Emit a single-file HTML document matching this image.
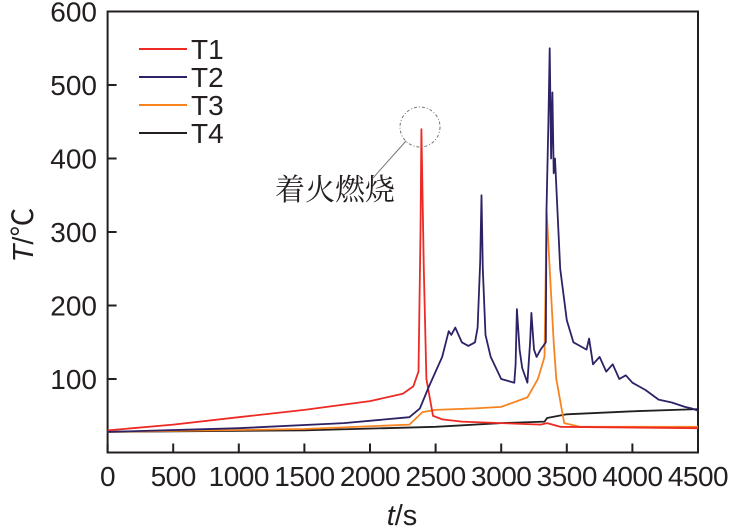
<!DOCTYPE html>
<html><head><meta charset="utf-8"><style>
body{margin:0;background:#fff}
svg{display:block;font-family:"Liberation Sans",Arial,sans-serif}
</style></head><body>
<svg id="chart" width="736" height="530"></svg>
<script>
const xTicks=[0,500,1000,1500,2000,2500,3000,3500,4000,4500];
const yTicks=[100,200,300,400,500,600];
const t1x=[0,500,1000,1500,2000,2250,2330,2370,2385,2392,2410,2430,2480,2550,2700,3000,3300,3350,3450,4500];
const t1y=[30,38,48,58,70,80,90,110,300,440,250,100,50,45,42,40,38,40,35,33];
const t2x=[0,1000,1800,2300,2380,2450,2500,2550,2600,2620,2650,2700,2750,2800,2820,2840,2850,2860,2880,2920,3000,3100,3110,3120,3140,3160,3200,3220,3230,3250,3270,3300,3340,3345,3360,3370,3380,3390,3400,3410,3450,3500,3550,3600,3650,3670,3700,3750,3800,3850,3900,3950,4000,4100,4200,4300,4400,4450,4500];
const t2y=[28,33,40,48,60,90,110,130,165,160,170,150,145,150,170,260,350,250,160,130,100,95,120,195,140,115,95,150,190,140,130,140,150,330,450,550,400,490,380,400,250,180,150,145,140,155,120,130,110,120,100,105,95,85,72,68,62,60,57];
const t3x=[0,1500,2300,2400,2500,2800,3000,3200,3280,3330,3340,3345,3355,3370,3400,3420,3480,3600,4500];
const t3y=[28,32,38,55,58,60,62,75,100,130,250,330,300,250,150,100,40,35,35];
const t4x=[0,1500,2500,3000,3330,3350,3500,4000,4500];
const t4y=[28,30,35,40,42,47,52,56,59];
const NS="http://www.w3.org/2000/svg";
const svg=document.getElementById('chart');
const X0=107.6,X1=698,Y0=452.5,Y1=11.5;
const sx=v=>X0+(v/4500)*(X1-X0);
const sy=v=>Y0-(v/600)*(Y0-Y1);
function mk(tag,attrs,parent){const e=document.createElementNS(NS,tag);for(const k in attrs)e.setAttribute(k,attrs[k]);(parent||svg).appendChild(e);return e;}
const frame=mk('rect',{x:X0,y:Y1,width:X1-X0,height:Y0-Y1,fill:'none',stroke:'#231f20','stroke-width':2});


xTicks.forEach(v=>{
  const l=mk('line',{x1:sx(v),x2:sx(v),y1:Y0,y2:Y0-9,stroke:'#231f20','stroke-width':2});
  
  
  const t=mk('text',{x:sx(v),y:486,'text-anchor':'middle','font-size':28,'letter-spacing':-0.5,fill:'#231f20'});
  t.textContent=v;
  
  
});
yTicks.forEach(v=>{
  const l=mk('line',{x1:X0,x2:X0+9,y1:sy(v),y2:sy(v),stroke:'#231f20','stroke-width':2});
  
  
  const t=mk('text',{x:97,y:sy(v)+10,'text-anchor':'end','font-size':28,fill:'#231f20'});
  t.textContent=v;
  
  
});
const series=[[t4x,t4y,'#231f20','series-t4'],[t3x,t3y,'#f7841f','series-t3'],[t1x,t1y,'#ed2a24','series-t1'],[t2x,t2y,'#2e2266','series-t2']];
series.forEach(([xs,ys,c,n])=>{
  const d=xs.map((x,i)=>(i?'L':'M')+sx(x).toFixed(1)+','+sy(ys[i]).toFixed(1)).join('');
  const p=mk('path',{d:d,fill:'none',stroke:c,'stroke-width':1.8,'stroke-linejoin':'round'});
  
  
});
const leg=[['T1','#ed2a24'],['T2','#2e2266'],['T3','#f7841f'],['T4','#231f20']];
leg.forEach(([n,c],i)=>{
  const y=49+i*28;
  const l=mk('line',{x1:139,x2:187,y1:y,y2:y,stroke:c,'stroke-width':2});
  
  
  const t=mk('text',{x:191,y:y+10,'font-size':28,fill:'#231f20'});
  t.textContent=n;
  
  
});
const c=mk('circle',{cx:420,cy:127,r:20,fill:'none',stroke:'#777','stroke-width':1,'stroke-dasharray':'3,2,1,2'});


const al=mk('line',{x1:406,y1:141,x2:373,y2:178,stroke:'#777','stroke-width':1});


const at=mk('text',{x:275,y:200,'font-size':30,fill:'#231f20','font-family':'"Noto Serif CJK SC","Liberation Serif",serif'});
at.textContent='着火燃烧';


const xt=mk('text',{x:402,y:525,'text-anchor':'middle','font-size':29,fill:'#231f20'});
xt.innerHTML='<tspan font-style="italic">t</tspan>/s';


const yt=mk('text',{x:0,y:0,'text-anchor':'middle','font-size':29,fill:'#231f20',transform:'translate(33,235) rotate(-90)','font-family':'"Liberation Sans","Noto Sans CJK SC",sans-serif'});
yt.innerHTML='<tspan font-style="italic">T</tspan>/℃';


</script>
</body></html>
